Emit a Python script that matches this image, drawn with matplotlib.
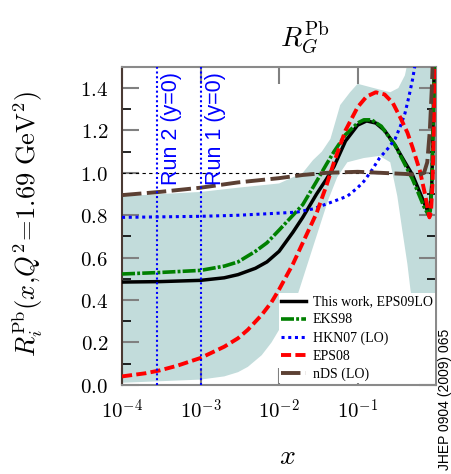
import numpy as np
import matplotlib
matplotlib.use('Agg')
import matplotlib.pyplot as plt
from matplotlib.ticker import FixedLocator, MultipleLocator, FuncFormatter, NullLocator

plt.rcParams['mathtext.fontset'] = 'cm'

# gluon modification R_G^Pb at Q^2 = 1.69 GeV^2
x_eps09 = [1e-4, 3e-4, 1e-3, 2e-3, 3e-3, 5e-3, 7e-3, 1e-2, 1.5e-2, 2e-2, 3e-2, 4e-2, 5e-2, 7e-2,
           0.1, 0.13, 0.17, 0.22, 0.3, 0.4, 0.5, 0.6, 0.7, 0.8, 0.84, 0.88, 0.91, 0.95]
r_eps09 = [0.485, 0.487, 0.493, 0.505, 0.52, 0.55, 0.58, 0.63, 0.72, 0.79, 0.9, 0.97, 1.03, 1.15,
           1.225, 1.245, 1.235, 1.2, 1.13, 1.05, 0.99, 0.92, 0.86, 0.81, 0.84, 0.95, 1.2, 1.55]

x_eks98 = [1e-4, 3e-4, 1e-3, 2e-3, 3e-3, 5e-3, 7e-3, 1e-2, 1.5e-2, 2e-2, 3e-2, 4e-2, 5e-2, 7e-2,
           0.1, 0.12, 0.15, 0.2, 0.3, 0.4, 0.5, 0.6, 0.7, 0.8, 0.84, 0.88, 0.91, 0.95]
r_eks98 = [0.523, 0.53, 0.54, 0.56, 0.58, 0.63, 0.67, 0.73, 0.8, 0.85, 0.96, 1.04, 1.1, 1.18,
           1.235, 1.25, 1.25, 1.22, 1.13, 1.04, 0.97, 0.9, 0.84, 0.8, 0.82, 0.93, 1.2, 1.55]

x_hkn07 = [1e-4, 1e-3, 3e-3, 1e-2, 1.7e-2, 2.7e-2, 4.5e-2, 7.4e-2, 0.1, 0.12, 0.15, 0.19, 0.25,
           0.3, 0.35, 0.4, 0.45, 0.5, 0.55, 0.6]
r_hkn07 = [0.79, 0.795, 0.8, 0.81, 0.815, 0.83, 0.86, 0.89, 0.93, 0.96, 1.01, 1.07, 1.12,
           1.16, 1.22, 1.28, 1.36, 1.44, 1.53, 1.62]

x_eps08 = [1e-4, 2e-4, 3e-4, 5e-4, 1e-3, 2e-3, 3e-3, 4e-3, 6e-3, 8e-3, 1e-2, 1.5e-2, 2e-2, 3e-2,
           4e-2, 5e-2, 7e-2, 0.1, 0.13, 0.17, 0.22, 0.28, 0.35, 0.43, 0.5, 0.62, 0.72, 0.82, 0.86,
           0.9, 0.93, 0.96]
r_eps08 = [0.04, 0.055, 0.068, 0.09, 0.127, 0.18, 0.22, 0.26, 0.33, 0.39, 0.45, 0.57, 0.67, 0.81,
           0.94, 1.05, 1.2, 1.31, 1.36, 1.38, 1.37, 1.33, 1.26, 1.19, 1.12, 1.01, 0.9, 0.79, 0.82,
           0.95, 1.2, 1.55]

x_nds = [1e-4, 3e-4, 1e-3, 3e-3, 1e-2, 2e-2, 4e-2, 0.1, 0.2, 0.4, 0.6, 0.7, 0.77, 0.83, 0.88, 0.92]
r_nds = [0.895, 0.91, 0.93, 0.955, 0.975, 0.99, 1.0, 1.005, 1.0, 0.995, 0.99, 1.0, 1.05, 1.2, 1.4, 1.6]

# EPS09 error band: upper and lower edges
x_band_hi = [1e-4, 1e-3, 3e-3, 1e-2, 2e-2, 2.7e-2, 3.5e-2, 4.5e-2, 5.2e-2, 6e-2, 8e-2, 0.1,
             0.16, 0.26, 0.33, 0.4, 0.45, 1.0]
band_hi = [0.89, 0.91, 0.93, 0.95, 1.0, 1.06, 1.1, 1.16, 1.24, 1.32, 1.38, 1.42,
           1.4, 1.38, 1.4, 1.46, 1.55, 1.55]
x_band_lo = [1e-4, 1e-3, 2e-3, 3e-3, 4e-3, 6e-3, 8e-3, 1e-2, 1.2e-2, 1.74e-2, 2.7e-2, 4.2e-2,
             5.5e-2, 7.4e-2, 0.12, 0.19, 0.26, 0.32, 0.37, 0.43, 0.47, 0.6, 0.8, 1.0]
band_lo = [0.01, 0.025, 0.04, 0.06, 0.085, 0.14, 0.2, 0.26, 0.31, 0.43, 0.65, 0.87,
           0.98, 1.05, 1.07, 1.08, 1.05, 0.89, 0.73, 0.57, 0.45, 0.2, 0.1, 0.1]

runs = [(2.8e-4, 'Run 2 (y=0)', 3.14e-4), (1.0e-3, 'Run 1 (y=0)', 1.14e-3)]

fig = plt.figure(figsize=(4.52, 4.74), dpi=100)
ax = fig.add_axes([0.270, 0.188, 0.695, 0.671])

ax.fill(np.r_[x_band_hi, x_band_lo[::-1]], np.r_[band_hi, band_lo[::-1]],
        color='#c2dcdb', lw=0, zorder=1)
ax.axhline(1.0, color='black', lw=0.8, ls=(0, (3, 3)), zorder=2)

ax.plot(x_eps09, r_eps09, color='black', lw=2.5, label='This work, EPS09LO', zorder=4)
ax.plot(x_eks98, r_eks98, color='#008000', lw=2.6, ls=(0, (3.6, 0.6, 0.8, 0.6)),
        label='EKS98', zorder=4)
ax.plot(x_hkn07, r_hkn07, color='blue', lw=2.2, ls=(0, (1, 1.2)), label='HKN07 (LO)', zorder=4)
ax.plot(x_eps08, r_eps08, color='red', lw=2.8, ls=(0, (2.6, 1.1)), label='EPS08', zorder=4)
ax.plot(x_nds, r_nds, color='#5c4033', lw=2.8, ls=(0, (5, 1.4)), label='nDS (LO)', zorder=4)

for xr, txt, xt in runs:
    ax.axvline(xr, color='blue', lw=1.5, ls=(0, (1, 1.3)), zorder=6)
    ax.text(xt, 0.943, txt, rotation=90, ha='left', va='bottom', color='blue',
            fontsize=15.5, family='Liberation Sans', zorder=6)

ax.set_xscale('log')
ax.set_xlim(1e-4, 1)
ax.set_ylim(0, 1.5)

ax.xaxis.set_major_locator(FixedLocator([1e-4, 1e-3, 1e-2, 1e-1]))
ax.xaxis.set_minor_locator(NullLocator())
ax.set_xticklabels([r'$10^{-4}$', r'$10^{-3}$', r'$10^{-2}$', r'$10^{-1}$'])
ax.yaxis.set_major_locator(MultipleLocator(0.2))
ax.yaxis.set_minor_locator(MultipleLocator(0.1))
ax.yaxis.set_major_formatter(FuncFormatter(lambda v, p: r'$%.1f$' % v))

ax.tick_params(which='major', direction='in', length=12, width=1.5, color='#808080',
               top=True, right=True, labelsize=15, pad=10)
ax.tick_params(which='minor', direction='in', length=6.5, width=1.2, color='black',
               top=True, right=True)
for sp in ax.spines.values():
    sp.set_color('#8a8a8a')
    sp.set_linewidth(1.5)
ax.spines['left'].set_color('#4a3a34')

leg = ax.legend(loc='lower right', prop={'family': 'Liberation Serif', 'size': 10},
                handlelength=1.8, handletextpad=0.5, labelspacing=0.36, borderpad=0.15,
                borderaxespad=0.1, frameon=True, fancybox=False, framealpha=1,
                facecolor='white', edgecolor='none')
leg.set_zorder(10)

fig.text(0.675, 0.922, r'$R_G^{\rm Pb}$', fontsize=20, ha='center', va='center')
fig.text(0.062, 0.527, r'$R_i^{\rm Pb}(x{,}Q^2\!=\!1.69\ {\rm GeV}^2)$', fontsize=19,
         rotation=90, ha='center', va='center')
fig.text(0.635, 0.038, r'$x$', fontsize=20, ha='center', va='center')
fig.text(0.985, 0.008, 'JHEP 0904 (2009) 065', rotation=90, fontsize=10,
         family='Liberation Sans', ha='center', va='bottom')

fig.savefig('out.png', dpi=100)
